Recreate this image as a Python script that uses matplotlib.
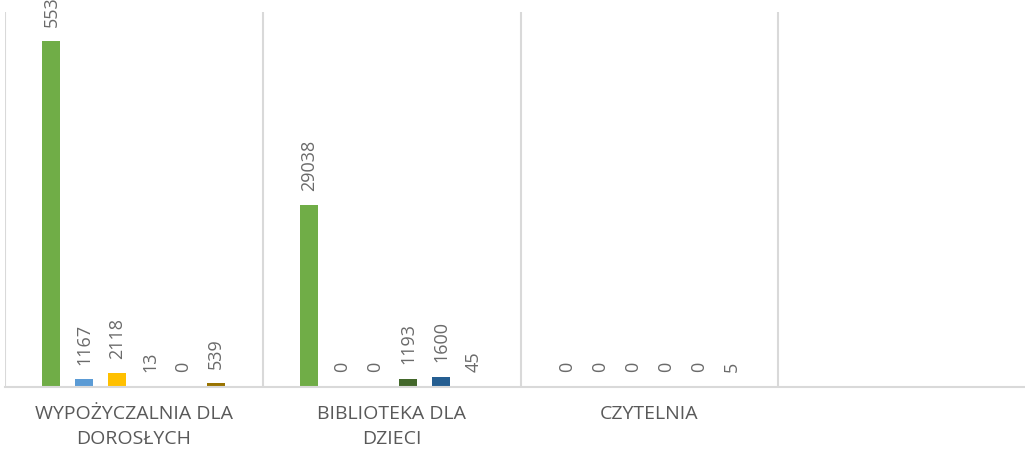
import matplotlib
matplotlib.use("Agg")
import matplotlib.pyplot as plt
import numpy as np

categories = ["WYPOŻYCZALNIA DLA\nDOROSŁYCH", "BIBLIOTEKA DLA\nDZIECI", "CZYTELNIA", ""]
series_values = [
    [55330, 29038, 0, None],
    [1167, 0, 0, None],
    [2118, 0, 0, None],
    [13, 1193, 0, None],
    [0, 1600, 0, None],
    [539, 45, 5, None],
]
series_colors = ["#70AD47", "#5B9BD5", "#FFC000", "#43682B", "#255E91", "#997300"]

plt.rcParams['font.family'] = ['Open Sans', 'DejaVu Sans']

W, H = 1025, 451
dpi = 100
fig = plt.figure(figsize=(W / dpi, H / dpi), dpi=dpi)
left_px, right_px = 5, 1036
top_px, base_px = 12, 386.5
ax = fig.add_axes([left_px / W, (H - base_px) / H,
                   (right_px - left_px) / W, (base_px - top_px) / H])

n = len(series_values)
slot = 33 / 258
bw = 18 / 258
x = np.arange(len(categories))
for i, (vals, col) in enumerate(zip(series_values, series_colors)):
    xs = x + (i - (n - 1) / 2) * slot
    for xi, v in zip(xs, vals):
        if v is None:
            continue
        ax.bar(xi, v, width=bw, color=col, zorder=3)
        ax.annotate(str(v), (xi, v), xytext=(0, 10.5), textcoords='offset points',
                    rotation=90, ha='center', va='bottom', fontsize=13,
                    color='#6A6A6A', annotation_clip=False)

ax.set_xlim(-0.5, len(categories) - 0.5)
ax.set_ylim(0, 60000)
for b in np.arange(-0.5, len(categories), 1.0):
    ax.axvline(b, color='#D9D9D9', lw=1.5, zorder=1)
ax.axhline(0, color='#D9D9D9', lw=1.5, zorder=4, clip_on=False)

for s in ax.spines.values():
    s.set_visible(False)
ax.set_yticks([])
ax.set_xticks(x)
ax.set_xticklabels(categories, fontsize=14, color='#595959', linespacing=1.45)
ax.tick_params(axis='x', length=0, pad=13.5)

fig.savefig("out.png", dpi=dpi)
